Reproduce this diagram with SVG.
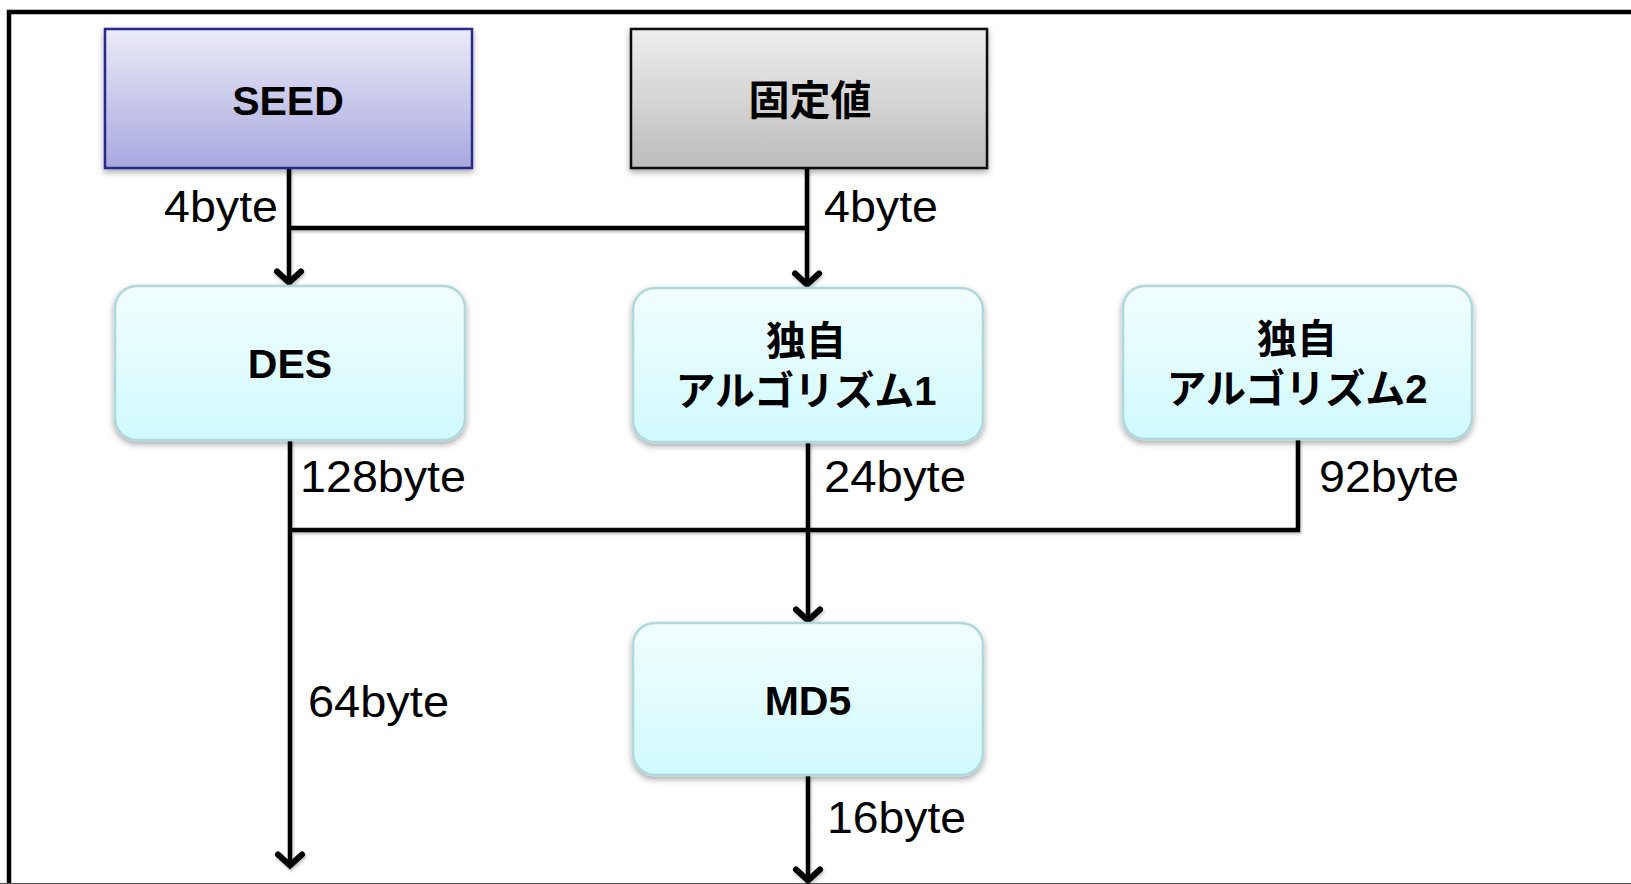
<svg xmlns="http://www.w3.org/2000/svg" width="1631" height="884" viewBox="0 0 1631 884">
<defs>
<linearGradient id="gSeed" x1="0" y1="0" x2="0" y2="1"><stop offset="0" stop-color="#ebebf8"/><stop offset="1" stop-color="#a8a8df"/></linearGradient>
<linearGradient id="gFix" x1="0" y1="0" x2="0" y2="1"><stop offset="0" stop-color="#eeeeee"/><stop offset="1" stop-color="#bcbcbc"/></linearGradient>
<linearGradient id="gCyan" x1="0" y1="0" x2="0" y2="1"><stop offset="0" stop-color="#f2fefe"/><stop offset="1" stop-color="#d0fafc"/></linearGradient>
<filter id="sh" x="-10%" y="-10%" width="120%" height="130%"><feDropShadow dx="0" dy="3" stdDeviation="3" flood-color="#000" flood-opacity="0.35"/></filter>
<filter id="lsh" x="-50%" y="-10%" width="200%" height="130%"><feDropShadow dx="1" dy="2" stdDeviation="1.5" flood-color="#000" flood-opacity="0.25"/></filter>
<marker id="arr" markerUnits="userSpaceOnUse" viewBox="-22 -20 30 40" refX="0" refY="0" markerWidth="30" markerHeight="40" orient="auto" overflow="visible">
<path d="M-12.5,-12 L-1.5,0 L-12.5,12" fill="none" stroke="#000" stroke-width="6" stroke-linecap="round" stroke-linejoin="miter"/>
</marker>
</defs>
<style>
.lbl{font-family:'Liberation Sans',Arial,sans-serif;font-size:44px;fill:#000}
.bt{font-family:'Liberation Sans','Noto Sans CJK JP',sans-serif;font-size:41px;font-weight:bold;fill:#000;text-anchor:middle}
.jp{font-family:'Liberation Sans','Noto Sans CJK JP',sans-serif;font-size:40px;font-weight:bold;fill:#000;text-anchor:middle}
.cyan{fill:url(#gCyan);stroke:#b0d8dc;stroke-width:2.5;filter:url(#sh)}
.ln{fill:none;stroke:#000;stroke-width:4.5}
</style>
<rect width="1631" height="884" fill="#fff"/>
<path d="M9,884 V12 H1631" fill="none" stroke="#000" stroke-width="4.5"/>
<line x1="0" y1="883.5" x2="1631" y2="883.5" stroke="#555" stroke-width="1"/>

<g id="connectors" filter="url(#lsh)">
<path class="ln" d="M289,168 V284" marker-end="url(#arr)"/>
<path class="ln" d="M807,168 V286" marker-end="url(#arr)"/>
<path class="ln" d="M289,228 H807"/>
<path class="ln" d="M290,440 V867" marker-end="url(#arr)"/>
<path class="ln" d="M808,442 V622" marker-end="url(#arr)"/>
<path class="ln" d="M1298,439 V530 H290"/>
<path class="ln" d="M808,775 V882" marker-end="url(#arr)"/>
</g>

<g id="labels">
<text class="lbl" x="164" y="222" textLength="114" lengthAdjust="spacingAndGlyphs">4byte</text>
<text class="lbl" x="824" y="222" textLength="114" lengthAdjust="spacingAndGlyphs">4byte</text>
<text class="lbl" x="300" y="492" textLength="166" lengthAdjust="spacingAndGlyphs">128byte</text>
<text class="lbl" x="824" y="492" textLength="142" lengthAdjust="spacingAndGlyphs">24byte</text>
<text class="lbl" x="1319" y="492" textLength="140" lengthAdjust="spacingAndGlyphs">92byte</text>
<text class="lbl" x="308" y="717" textLength="141" lengthAdjust="spacingAndGlyphs">64byte</text>
<text class="lbl" x="827" y="833" textLength="139" lengthAdjust="spacingAndGlyphs">16byte</text>
</g>

<g id="seed">
<rect x="105" y="29" width="367" height="139" fill="url(#gSeed)" stroke="#2b2b8c" stroke-width="2.5" filter="url(#sh)"/>
<text class="bt" x="288" y="115">SEED</text>
</g>
<g id="fixed">
<rect x="631" y="29" width="356" height="139" fill="url(#gFix)" stroke="#111" stroke-width="2.5" filter="url(#sh)"/>
<text class="bt" x="810" y="115">固定値</text>
</g>
<g id="des">
<rect class="cyan" x="115" y="286" width="350" height="154" rx="22"/>
<text class="bt" x="290" y="378">DES</text>
</g>
<g id="algo1">
<rect class="cyan" x="633" y="288" width="350" height="154" rx="22"/>
<text class="jp" x="806" y="355">独自</text>
<text class="jp" x="806" y="405">アルゴリズム1</text>
</g>
<g id="algo2">
<rect class="cyan" x="1123" y="286" width="349" height="153" rx="22"/>
<text class="jp" x="1297" y="353">独自</text>
<text class="jp" x="1297" y="403">アルゴリズム2</text>
</g>
<g id="md5">
<rect class="cyan" x="633" y="623" width="350" height="152" rx="22"/>
<text class="bt" x="808" y="715">MD5</text>
</g>
</svg>
